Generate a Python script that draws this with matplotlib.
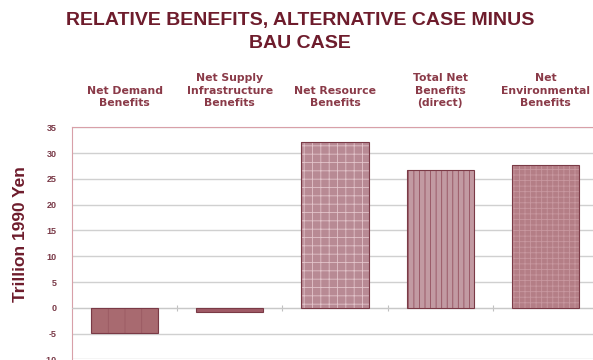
import numpy as np
import matplotlib
matplotlib.use("Agg")
import matplotlib.pyplot as plt

# data
categories = ["Net Demand\nBenefits",
              "Net Supply\nInfrastructure\nBenefits",
              "Net Resource\nBenefits",
              "Total Net\nBenefits\n(direct)",
              "Net\nEnvironmental\nBenefits"]
values = [-4.8, -0.9, 32.1, 26.7, 27.7]
yticks = [-10, -5, 0, 5, 10, 15, 20, 25, 30, 35]

# styles
fills = ["#a86a70", "#a05a66", "#b88a94", "#c29aa2", "#b47e86"]
hatch_cols = ["#9a5a62", "#9a5a62", "#e2c4ca", "#94505e", "#c898a0"]
hatches = ["|", "", "++", "|||", "+++"]
maroon = "#6e1c2c"

plt.rcParams['font.family'] = ['Liberation Sans', 'DejaVu Sans']
plt.rcParams['hatch.linewidth'] = 0.6

fig = plt.figure(figsize=(5.93, 3.6), dpi=100)
ax = fig.add_axes([72/593, 0.6/360, 526/593, (359.4-127.3)/360])

x = np.arange(len(values))
for i in range(len(values)):
    ax.bar(x[i], values[i], width=0.64, color=fills[i], hatch=hatches[i],
           edgecolor=hatch_cols[i], linewidth=0, zorder=3)
ax.bar(x, values, width=0.64, fill=False, edgecolor="#7a3a46",
       linewidth=0.8, zorder=4)

ax.set_xlim(-0.5, len(values) - 0.5)
ax.set_ylim(-10, 35)
ax.set_yticks(yticks)
ax.set_yticklabels([str(t) for t in yticks], fontsize=6.5,
                   fontweight='bold', color="#7a3a48")
ax.grid(axis='y', color="#d0d0d0", linewidth=1.0, zorder=0)
ax.set_axisbelow(True)

# zero line with small ticks between categories
ax.spines['bottom'].set_position(('data', 0))
ax.spines['bottom'].set_color("#c8c8c8")
ax.set_xticks(np.arange(0.5, len(values) - 0.5, 1.0))
ax.set_xticklabels([])
ax.tick_params(axis='x', direction='inout', length=5, color="#c0c0c0", width=0.8)
ax.tick_params(axis='y', length=0, pad=11)
for s in ['left', 'top', 'right']:
    ax.spines[s].set_color("#d8a0a8")
    ax.spines[s].set_linewidth(0.8)

# category labels above the plot
for i, lab in enumerate(categories):
    ax.text(x[i], 1.083, lab, transform=ax.get_xaxis_transform(),
            ha='center', va='bottom', fontsize=7.8, fontweight='bold',
            family='DejaVu Sans', color="#8a3a48", linespacing=1.3)

ax.set_ylabel("Trillion 1990 Yen", fontsize=12.5, fontweight='bold',
              color=maroon)
ax.yaxis.set_label_coords(-0.083, 0.54)

fig.text(0.506, 1 - 32/360, "RELATIVE BENEFITS, ALTERNATIVE CASE MINUS\nBAU CASE",
         ha='center', va='center', fontsize=14, fontweight='bold',
         color=maroon, linespacing=1.5)

fig.savefig("out.png", dpi=100)
